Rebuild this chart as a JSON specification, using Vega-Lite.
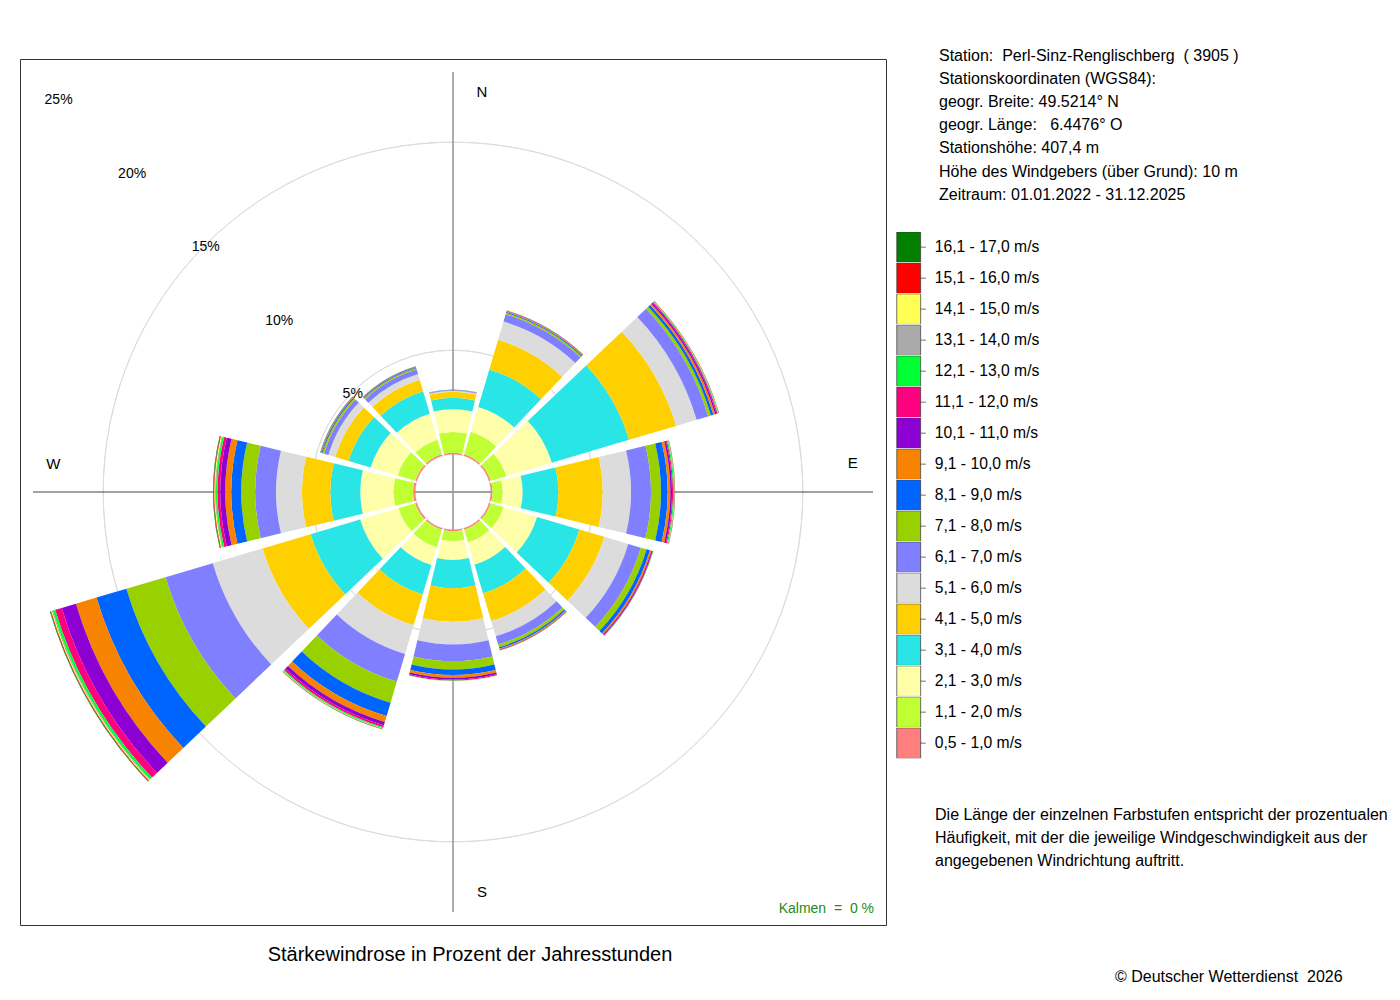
{
  "$schema": "https://vega.github.io/schema/vega-lite/v6.json",
  "width": 866,
  "height": 866,
  "autosize": {"type": "none"},
  "padding": {"left": 20, "top": 59, "right": 514, "bottom": 75},
  "background": "white",
  "config": {
    "font": "Liberation Sans",
    "text": {"font": "Liberation Sans"},
    "view": {"stroke": "#333333", "strokeWidth": 1}
  },
  "datasets": {
    "rose": [
      {"d": 0,   "c01": 0.07, "c02": 1.00, "c03": 1.09, "c04": 0.55, "c05": 0.29, "c06": 0.05, "c07": 0.04, "c08": 0.01, "c09": 0.01, "c10": 0, "c11": 0, "c12": 0, "c13": 0, "c14": 0, "c15": 0, "c16": 0, "c17": 0},
      {"d": 30,  "c01": 0.07, "c02": 1.13, "c03": 1.25, "c04": 1.88, "c05": 1.49, "c06": 0.91, "c07": 0.36, "c08": 0.07, "c09": 0.05, "c10": 0.03, "c11": 0.02, "c12": 0.02, "c13": 0.01, "c14": 0, "c15": 0, "c16": 0, "c17": 0},
      {"d": 60,  "c01": 0.07, "c02": 0.79, "c03": 2.28, "c04": 3.87, "c05": 2.36, "c06": 1.03, "c07": 0.58, "c08": 0.14, "c09": 0.12, "c10": 0.09, "c11": 0.07, "c12": 0.05, "c13": 0.03, "c14": 0.02, "c15": 0.01, "c16": 0.01, "c17": 0.01},
      {"d": 90,  "c01": 0.08, "c02": 0.49, "c03": 0.96, "c04": 1.72, "c05": 2.13, "c06": 1.36, "c07": 0.96, "c08": 0.48, "c09": 0.32, "c10": 0.13, "c11": 0.08, "c12": 0.05, "c13": 0.05, "c14": 0.02, "c15": 0.01, "c16": 0.01, "c17": 0.01},
      {"d": 120, "c01": 0.07, "c02": 0.65, "c03": 1.68, "c04": 2.12, "c05": 1.25, "c06": 1.20, "c07": 0.63, "c08": 0.29, "c09": 0.17, "c10": 0.07, "c11": 0.05, "c12": 0.03, "c13": 0.02, "c14": 0, "c15": 0, "c16": 0, "c17": 0},
      {"d": 150, "c01": 0.07, "c02": 0.65, "c03": 1.10, "c04": 1.44, "c05": 1.39, "c06": 0.77, "c07": 0.41, "c08": 0.14, "c09": 0.07, "c10": 0.04, "c11": 0.02, "c12": 0.02, "c13": 0.01, "c14": 0, "c15": 0, "c16": 0, "c17": 0},
      {"d": 180, "c01": 0.07, "c02": 0.47, "c03": 0.91, "c04": 1.36, "c05": 1.61, "c06": 1.09, "c07": 0.80, "c08": 0.40, "c09": 0.27, "c10": 0.13, "c11": 0.08, "c12": 0.05, "c13": 0.02, "c14": 0.01, "c15": 0.01, "c16": 0, "c17": 0},
      {"d": 210, "c01": 0.07, "c02": 0.88, "c03": 0.89, "c04": 1.48, "c05": 1.54, "c06": 1.44, "c07": 1.39, "c08": 1.06, "c09": 0.67, "c10": 0.29, "c11": 0.17, "c12": 0.10, "c13": 0.05, "c14": 0.02, "c15": 0.02, "c16": 0.01, "c17": 0.01},
      {"d": 240, "c01": 0.08, "c02": 0.84, "c03": 1.92, "c04": 2.48, "c05": 2.41, "c06": 2.50, "c07": 2.37, "c08": 1.96, "c09": 1.50, "c10": 1.03, "c11": 0.71, "c12": 0.33, "c13": 0.12, "c14": 0.05, "c15": 0.04, "c16": 0.03, "c17": 0.03},
      {"d": 270, "c01": 0.10, "c02": 0.94, "c03": 1.60, "c04": 1.44, "c05": 1.36, "c06": 1.25, "c07": 1.00, "c08": 0.67, "c09": 0.48, "c10": 0.29, "c11": 0.24, "c12": 0.13, "c13": 0.08, "c14": 0.04, "c15": 0.04, "c16": 0.03, "c17": 0.03},
      {"d": 300, "c01": 0.07, "c02": 0.89, "c03": 1.35, "c04": 1.11, "c05": 0.67, "c06": 0.34, "c07": 0.22, "c08": 0.08, "c09": 0.05, "c10": 0.03, "c11": 0.02, "c12": 0.01, "c13": 0.01, "c14": 0, "c15": 0, "c16": 0, "c17": 0},
      {"d": 330, "c01": 0.07, "c02": 0.73, "c03": 1.31, "c04": 1.13, "c05": 0.57, "c06": 0.29, "c07": 0.22, "c08": 0.07, "c09": 0.04, "c10": 0.02, "c11": 0.02, "c12": 0.01, "c13": 0.01, "c14": 0, "c15": 0, "c16": 0, "c17": 0}
    ],
    "classes": [
      {"k": "c01", "s": "0,5 - 1,0 m/s"},
      {"k": "c02", "s": "1,1 - 2,0 m/s"},
      {"k": "c03", "s": "2,1 - 3,0 m/s"},
      {"k": "c04", "s": "3,1 - 4,0 m/s"},
      {"k": "c05", "s": "4,1 - 5,0 m/s"},
      {"k": "c06", "s": "5,1 - 6,0 m/s"},
      {"k": "c07", "s": "6,1 - 7,0 m/s"},
      {"k": "c08", "s": "7,1 - 8,0 m/s"},
      {"k": "c09", "s": "8,1 - 9,0 m/s"},
      {"k": "c10", "s": "9,1 - 10,0 m/s"},
      {"k": "c11", "s": "10,1 - 11,0 m/s"},
      {"k": "c12", "s": "11,1 - 12,0 m/s"},
      {"k": "c13", "s": "12,1 - 13,0 m/s"},
      {"k": "c14", "s": "13,1 - 14,0 m/s"},
      {"k": "c15", "s": "14,1 - 15,0 m/s"},
      {"k": "c16", "s": "15,1 - 16,0 m/s"},
      {"k": "c17", "s": "16,1 - 17,0 m/s"}
    ]
  },
  "layer": [
    {
      "data": {"values": [{"ring": 5}, {"ring": 10}, {"ring": 15}, {"ring": 20}, {"ring": 25}]},
      "mark": {"type": "arc", "filled": false, "color": "#dcdcdc", "strokeWidth": 1, "clip": true},
      "encoding": {
        "theta": {"value": 0},
        "theta2": {"value": 6.2832},
        "radius": {"field": "ring", "type": "quantitative", "scale": {"type": "linear", "domain": [0, 30], "range": [37.8, 661.8], "zero": false, "nice": false}},
        "radius2": {"value": 0}
      }
    },
    {
      "data": {"values": [{}]},
      "mark": {"type": "rule", "color": "#444444", "strokeWidth": 1},
      "encoding": {
        "x": {"datum": -0.97, "type": "quantitative", "scale": {"domain": [-1, 1], "nice": false, "zero": false}, "axis": null},
        "x2": {"datum": 0.97},
        "y": {"datum": 0, "type": "quantitative", "scale": {"domain": [-1, 1], "nice": false, "zero": false}, "axis": null}
      }
    },
    {
      "data": {"values": [{}]},
      "mark": {"type": "rule", "color": "#999999", "strokeWidth": 1.6},
      "encoding": {
        "x": {"datum": 0, "type": "quantitative", "scale": {"domain": [-1, 1], "nice": false, "zero": false}, "axis": null},
        "y": {"datum": -0.97, "type": "quantitative", "scale": {"domain": [-1, 1], "nice": false, "zero": false}, "axis": null},
        "y2": {"datum": 0.97}
      }
    },
    {
      "data": {"name": "rose"},
      "transform": [
        {"fold": ["c01", "c02", "c03", "c04", "c05", "c06", "c07", "c08", "c09", "c10", "c11", "c12", "c13", "c14", "c15", "c16", "c17"], "as": ["k", "v"]},
        {"lookup": "k", "from": {"data": {"name": "classes"}, "key": "k", "fields": ["s"]}},
        {"stack": "v", "groupby": ["d"], "sort": [{"field": "k", "order": "ascending"}], "as": ["r0", "r1"]}
      ],
      "mark": {"type": "arc"},
      "encoding": {
        "theta": {"field": "d", "type": "ordinal", "scale": {"type": "band", "domain": [0, 30, 60, 90, 120, 150, 180, 210, 240, 270, 300, 330], "range": [-0.261799, 6.021386], "paddingInner": 0.1, "paddingOuter": 0.05}},
        "radius": {"field": "r1", "type": "quantitative", "stack": null, "scale": {"type": "linear", "domain": [0, 30], "range": [37.8, 661.8], "zero": false, "nice": false}},
        "radius2": {"field": "r0"},
        "color": {
          "field": "s",
          "type": "nominal",
          "scale": {
            "domain": ["16,1 - 17,0 m/s", "15,1 - 16,0 m/s", "14,1 - 15,0 m/s", "13,1 - 14,0 m/s", "12,1 - 13,0 m/s", "11,1 - 12,0 m/s", "10,1 - 11,0 m/s", "9,1 - 10,0 m/s", "8,1 - 9,0 m/s", "7,1 - 8,0 m/s", "6,1 - 7,0 m/s", "5,1 - 6,0 m/s", "4,1 - 5,0 m/s", "3,1 - 4,0 m/s", "2,1 - 3,0 m/s", "1,1 - 2,0 m/s", "0,5 - 1,0 m/s"],
            "range": ["#007F00", "#FF0000", "#FFFF55", "#AAAAAA", "#00FF33", "#FF007F", "#8C00D4", "#F78300", "#0064FF", "#99D000", "#7F7FFF", "#DCDCDC", "#FFD000", "#29E5E5", "#FFFFAA", "#BFFF33", "#FF7F7F"]
          },
          "legend": {
            "orient": "none",
            "legendX": 872.7,
            "legendY": 173,
            "title": null,
            "padding": 0,
            "rowPadding": 0,
            "clipHeight": 30.3,
            "symbolType": "M-0.78,-1H0.78V1H-0.78Z M0.78,0H1.12",
            "symbolSize": 936,
            "symbolStrokeColor": "#333333",
            "symbolStrokeWidth": 0.7,
            "symbolOpacity": 1,
            "labelFont": "Liberation Sans",
            "labelFontSize": 15.7,
            "labelColor": "#000000",
            "labelOffset": 10,
            "labelLimit": 300
          }
        }
      }
    },
    {
      "data": {"values": [{"ring": 5, "lab": "5%"}, {"ring": 10, "lab": "10%"}, {"ring": 15, "lab": "15%"}, {"ring": 20, "lab": "20%"}, {"ring": 25, "lab": "25%"}]},
      "mark": {"type": "text", "fontSize": 14, "color": "#000000", "align": "center", "baseline": "middle", "dy": 2.5},
      "encoding": {
        "theta": {"value": 5.497787},
        "radius": {"field": "ring", "type": "quantitative", "scale": {"type": "linear", "domain": [0, 30], "range": [37.8, 661.8], "zero": false, "nice": false}},
        "text": {"field": "lab"}
      }
    },
    {
      "data": {"values": [{"lab": "N"}, {"lab": "S"}]},
      "mark": {"type": "text", "fontSize": 15, "color": "#000000", "align": "center", "baseline": "middle", "dx": 29},
      "encoding": {
        "theta": {"field": "lab", "type": "nominal", "scale": {"type": "point", "domain": ["N", "S"], "range": [0, 3.14159], "padding": 0}},
        "radius": {"datum": 17.4, "type": "quantitative", "scale": {"type": "linear", "domain": [0, 30], "range": [37.8, 661.8], "zero": false, "nice": false}},
        "text": {"field": "lab"}
      }
    },
    {
      "data": {"values": [{"lab": "E"}, {"lab": "W"}]},
      "mark": {"type": "text", "fontSize": 15, "color": "#000000", "align": "center", "baseline": "middle", "dy": -28.5},
      "encoding": {
        "theta": {"field": "lab", "type": "nominal", "scale": {"type": "point", "domain": ["E", "W"], "range": [1.570796, 4.712389], "padding": 0}},
        "radius": {"datum": 17.4, "type": "quantitative", "scale": {"type": "linear", "domain": [0, 30], "range": [37.8, 661.8], "zero": false, "nice": false}},
        "text": {"field": "lab"}
      }
    },
    {
      "data": {"values": [{}]},
      "mark": {"type": "text", "fontSize": 16, "color": "#000000", "align": "left", "baseline": "alphabetic", "lineHeight": 23.2},
      "encoding": {
        "x": {"datum": 1.1224, "type": "quantitative", "scale": {"domain": [-1, 1], "nice": false, "zero": false}, "axis": null},
        "y": {"datum": 0.9965, "type": "quantitative", "scale": {"domain": [-1, 1], "nice": false, "zero": false}, "axis": null},
        "text": {"value": ["Station:\u00a0 Perl-Sinz-Renglischberg\u00a0 ( 3905 )", "Stationskoordinaten (WGS84):", "geogr. Breite: 49.5214° N", "geogr. Länge:\u00a0\u00a0 6.4476° O", "Stationshöhe: 407,4 m", "Höhe des Windgebers (über Grund): 10 m", "Zeitraum: 01.01.2022 - 31.12.2025"]}
      }
    },
    {
      "data": {"values": [{}]},
      "mark": {"type": "text", "fontSize": 16, "color": "#000000", "align": "left", "baseline": "alphabetic", "lineHeight": 23},
      "encoding": {
        "x": {"datum": 1.1132, "type": "quantitative", "scale": {"domain": [-1, 1], "nice": false, "zero": false}, "axis": null},
        "y": {"datum": -0.7564, "type": "quantitative", "scale": {"domain": [-1, 1], "nice": false, "zero": false}, "axis": null},
        "text": {"value": ["Die Länge der einzelnen Farbstufen entspricht der prozentualen", "Häufigkeit, mit der die jeweilige Windgeschwindigkeit aus der", "angegebenen Windrichtung auftritt."]}
      }
    },
    {
      "data": {"values": [{}]},
      "mark": {"type": "text", "fontSize": 16, "color": "#000000", "align": "left", "baseline": "alphabetic"},
      "encoding": {
        "x": {"datum": 1.5289, "type": "quantitative", "scale": {"domain": [-1, 1], "nice": false, "zero": false}, "axis": null},
        "y": {"datum": -1.1305, "type": "quantitative", "scale": {"domain": [-1, 1], "nice": false, "zero": false}, "axis": null},
        "text": {"value": "© Deutscher Wetterdienst\u00a0 2026"}
      }
    },
    {
      "data": {"values": [{}]},
      "mark": {"type": "text", "fontSize": 20, "color": "#000000", "align": "center", "baseline": "alphabetic"},
      "encoding": {
        "x": {"datum": 0.0393, "type": "quantitative", "scale": {"domain": [-1, 1], "nice": false, "zero": false}, "axis": null},
        "y": {"datum": -1.0831, "type": "quantitative", "scale": {"domain": [-1, 1], "nice": false, "zero": false}, "axis": null},
        "text": {"value": "Stärkewindrose in Prozent der Jahresstunden"}
      }
    },
    {
      "data": {"values": [{}]},
      "mark": {"type": "text", "fontSize": 14, "color": "#228B22", "align": "right", "baseline": "alphabetic"},
      "encoding": {
        "x": {"datum": 0.9723, "type": "quantitative", "scale": {"domain": [-1, 1], "nice": false, "zero": false}, "axis": null},
        "y": {"datum": -0.9723, "type": "quantitative", "scale": {"domain": [-1, 1], "nice": false, "zero": false}, "axis": null},
        "text": {"value": "Kalmen\u00a0 =\u00a0 0 %"}
      }
    }
  ],
  "resolve": {"scale": {"theta": "independent"}}
}
